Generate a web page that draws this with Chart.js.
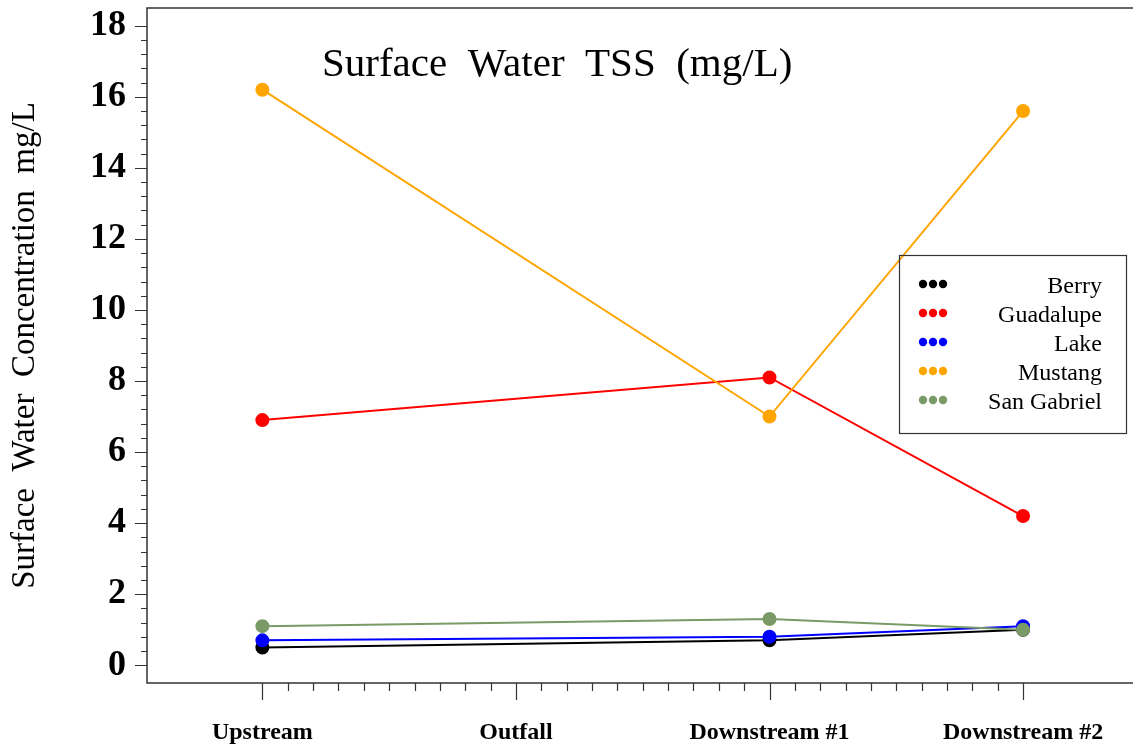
<!DOCTYPE html>
<html>
<head>
<meta charset="utf-8">
<title>Surface Water TSS</title>
<script src="https://cdn.jsdelivr.net/npm/chart.js@4.4.1/dist/chart.umd.min.js"></script>
<style>
  html, body { margin: 0; padding: 0; background: #fff; }
  #wrap { width: 1133px; height: 748px; position: relative; }
</style>
</head>
<body>
<div id="wrap"><canvas id="tssChart"></canvas></div>
<script>
// Sitios de muestreo (eje X) y valores de TSS por río (mg/L)
const sitios = ['Upstream', 'Outfall', 'Downstream #1', 'Downstream #2'];
const berry      = [0.5, null, 0.7, 1.0];
const guadalupe  = [6.9, null, 8.1, 4.2];
const lake       = [0.7, null, 0.8, 1.1];
const mustang    = [16.2, null, 7.0, 15.6];
const sanGabriel = [1.1, null, 1.3, 1.0];
const ticksY     = [0, 2, 4, 6, 8, 10, 12, 14, 16, 18];

const series = [
    { nombre: 'Berry',       valores: berry,      color: '#000000' },
    { nombre: 'Guadalupe',   valores: guadalupe,  color: '#ff0000' },
    { nombre: 'Lake',        valores: lake,       color: '#0000ff' },
    { nombre: 'Mustang',     valores: mustang,    color: '#ffa500' },
    { nombre: 'San Gabriel', valores: sanGabriel, color: '#7a9a67' }
];

const fuente = '"Liberation Serif", "DejaVu Serif", serif';
const colorEje = '#333333';

// Convierte los valores a puntos {x, y}, saltando los sitios sin muestra
function aPuntos(valores) {
    const puntos = [];
    valores.forEach((v, i) => {
        if (v !== null) puntos.push({ x: i, y: v });
    });
    return puntos;
}

// Marco, marcas de los ejes, título interno y leyenda
const decoracion = {
    id: 'decoracion',
    afterDraw(chart) {
        const { ctx, chartArea: a, scales: { x, y } } = chart;
        ctx.save();
        ctx.strokeStyle = colorEje;
        ctx.lineWidth = 1.5;

        // marco (izquierda, arriba, abajo)
        ctx.beginPath();
        ctx.moveTo(chart.width, a.top);
        ctx.lineTo(a.left, a.top);
        ctx.lineTo(a.left, a.bottom);
        ctx.lineTo(chart.width, a.bottom);
        ctx.stroke();

        // marcas del eje Y: mayores cada 2, menores cada 0.4
        ctx.lineWidth = 1.2;
        ctx.beginPath();
        for (let k = 0; k <= 45; k++) {
            const v = k * 0.4;
            const py = Math.round(y.getPixelForValue(v)) + 0.5;
            const mayor = k % 5 === 0;
            ctx.moveTo(a.left, py);
            ctx.lineTo(a.left - (mayor ? 12 : 6), py);
        }
        // marcas del eje X: mayores en cada sitio, menores cada 0.1
        for (let k = 0; k <= 30; k++) {
            const v = k / 10;
            const px = Math.round(x.getPixelForValue(v)) + 0.5;
            const mayor = k % 10 === 0;
            ctx.moveTo(px, a.bottom);
            ctx.lineTo(px, a.bottom + (mayor ? 17 : 8));
        }
        ctx.stroke();

        // título dentro del área de la gráfica
        ctx.fillStyle = '#000';
        ctx.font = '41px ' + fuente;
        ctx.textAlign = 'left';
        ctx.textBaseline = 'alphabetic';
        ctx.fillText('Surface  Water  TSS  (mg/L)', 322, 76);

        // leyenda con tres puntos por serie, texto alineado a la derecha
        const caja = { left: 899, top: 255, right: 1126, bottom: 433 };
        ctx.strokeStyle = colorEje;
        ctx.lineWidth = 1.2;
        ctx.strokeRect(caja.left + 0.5, caja.top + 0.5, caja.right - caja.left, caja.bottom - caja.top);
        ctx.font = '24px ' + fuente;
        ctx.textAlign = 'right';
        ctx.textBaseline = 'middle';
        series.forEach((s, i) => {
            const fy = caja.top + 29 + i * 29;
            ctx.fillStyle = s.color;
            [923, 933, 943].forEach(cx => {
                ctx.beginPath();
                ctx.arc(cx, fy, 4.2, 0, Math.PI * 2);
                ctx.fill();
            });
            ctx.fillStyle = '#000';
            ctx.fillText(s.nombre, 1102, fy + 3);
        });
        ctx.restore();
    }
};

const ctxTss = document.getElementById('tssChart');
new Chart(ctxTss, {
    type: 'line',
    data: {
        datasets: series.map((s, i) => ({
            label: s.nombre,
            data: aPuntos(s.valores),
            borderColor: s.color,
            backgroundColor: s.color,
            pointBackgroundColor: s.color,
            pointBorderColor: s.color,
            borderWidth: 2,
            pointRadius: 6,
            pointHoverRadius: 6,
            tension: 0,
            order: series.length - i // la última serie queda encima
        }))
    },
    options: {
        responsive: true,
        maintainAspectRatio: false,
        animation: false,
        layout: { padding: { top: 5, right: 0, left: 0, bottom: 0 } },
        plugins: {
            legend: { display: false },
            tooltip: { enabled: false }
        },
        scales: {
            x: {
                type: 'linear',
                min: -0.455,
                max: 3.402,
                grid: { display: false },
                border: { display: false },
                afterBuildTicks(scale) {
                    scale.ticks = sitios.map((_, i) => ({ value: i }));
                },
                afterFit(scale) {
                    scale.height = 65;
                    scale.paddingLeft = 0;
                    scale.paddingRight = 0;
                },
                ticks: {
                    autoSkip: false,
                    maxRotation: 0,
                    padding: 27,
                    color: '#000',
                    font: { family: fuente, size: 24, weight: 'bold' },
                    callback: v => sitios[v] || ''
                }
            },
            y: {
                min: -0.5,
                max: 18.5,
                grid: { display: false },
                border: { display: false },
                afterBuildTicks(scale) {
                    scale.ticks = ticksY.map(v => ({ value: v }));
                },
                afterFit(scale) {
                    scale.width = 147;
                    scale.paddingTop = 0;
                    scale.paddingBottom = 0;
                },
                ticks: {
                    padding: 13,
                    color: '#000',
                    font: { family: fuente, size: 36, weight: 'bold' }
                },
                title: {
                    display: true,
                    text: 'Surface  Water  Concentration  mg/L',
                    color: '#000',
                    font: { family: fuente, size: 33 },
                    padding: { top: 6, bottom: 0 }
                }
            }
        }
    },
    plugins: [decoracion]
});
</script>
</body>
</html>
